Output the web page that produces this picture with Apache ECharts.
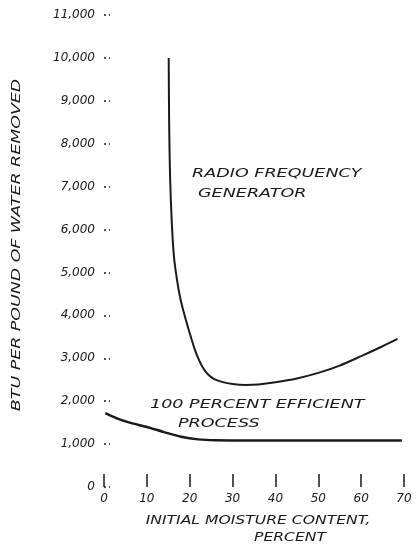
<!DOCTYPE html>
<html>
<head>
<meta charset="utf-8">
<script src="https://cdn.jsdelivr.net/npm/echarts@6/dist/echarts.min.js"></script>
<style>
  html, body { margin: 0; padding: 0; background: #fff; }
  #chart { width: 416px; height: 556px; }
</style>
</head>
<body>
<div id="chart"></div>
<script>
// x: initial moisture content, percent
const xTicks = [0, 10, 20, 30, 40, 50, 60, 70]
const yTicks = [0, 1000, 2000, 3000, 4000, 5000, 6000, 7000, 8000, 9000, 10000, 11000]

// radio frequency generator curve [moisture %, BTU per lb]
const rfGenerator = [
    [15.1, 10000], [15.2, 8500], [15.4, 7300], [15.8, 6200], [16.3, 5400],
    [17.0, 4850], [17.8, 4400], [18.8, 4000], [19.9, 3620], [21.2, 3200],
    [22.2, 2950], [23.2, 2760], [24.3, 2620], [25.6, 2520], [27.5, 2450],
    [30, 2400], [33, 2380], [36, 2390], [40, 2440], [45, 2530],
    [50, 2660], [55, 2830], [60, 3050], [65, 3280], [68.5, 3450]
]

// 100 percent efficient process
const efficientProcess = [
    [0.3, 1720], [3, 1600], [6, 1500], [10, 1400], [14, 1280], [18, 1170],
    [22, 1110], [26, 1090], [35, 1085], [50, 1085], [69.5, 1085]
]

const font = 'DejaVu Sans'
const ink = '#1a1a1a'

const chart = echarts.init(document.getElementById('chart'))

const textEl = (text, x, y, sx, size, align) => ({
    type: 'text',
    x: x, y: y,
    scaleX: sx,
    style: {
        text: text,
        fill: ink,
        font: 'italic ' + size + 'px "' + font + '"',
        textAlign: align || 'left',
        textVerticalAlign: 'middle'
    }
})

const option = {
    animation: false,
    grid: { left: 104, right: 12, top: 15, bottom: 69 },
    xAxis: {
        type: 'value',
        min: 0, max: 70, interval: 10,
        axisLine: { show: false },
        axisTick: { show: true, inside: true, length: 13, lineStyle: { color: ink, width: 1.5 } },
        axisLabel: { color: ink, fontStyle: 'italic', fontFamily: font, fontSize: 12, margin: 6 },
        splitLine: { show: false }
    },
    yAxis: {
        type: 'value',
        min: 0, max: 11000, interval: 1000,
        axisLine: { show: false },
        axisTick: { show: true, inside: true, length: 6, lineStyle: { color: ink, width: 1.5, type: [2, 3] } },
        axisLabel: {
            color: ink, fontStyle: 'italic', fontFamily: font, fontSize: 12, margin: 9,
            formatter: v => v.toLocaleString('en-US')
        },
        splitLine: { show: false }
    },
    series: [{
        name: 'Radio frequency generator',
        type: 'line',
        data: rfGenerator,
        smooth: 0.3,
        showSymbol: false,
        lineStyle: { color: ink, width: 2 }
    }, {
        name: '100 percent efficient process',
        type: 'line',
        data: efficientProcess,
        smooth: 0.3,
        showSymbol: false,
        lineStyle: { color: ink, width: 2.5 }
    }],
    graphic: [
        textEl('RADIO FREQUENCY', 192, 174, 1.35, 13),
        textEl('GENERATOR', 198, 194, 1.35, 13),
        textEl('100 PERCENT EFFICIENT', 150, 405, 1.35, 13),
        textEl('PROCESS', 178, 424, 1.35, 13),
        textEl('INITIAL MOISTURE CONTENT,', 258, 521, 1.3, 12, 'center'),
        textEl('PERCENT', 290, 538, 1.3, 12, 'center'),
        Object.assign(textEl('BTU PER POUND OF WATER REMOVED', 17, 245, 1.45, 12, 'center'), { rotation: Math.PI / 2 })
    ]
}

chart.setOption(option)
window.addEventListener('resize', function () {
    chart.resize()
})
</script>
</body>
</html>
